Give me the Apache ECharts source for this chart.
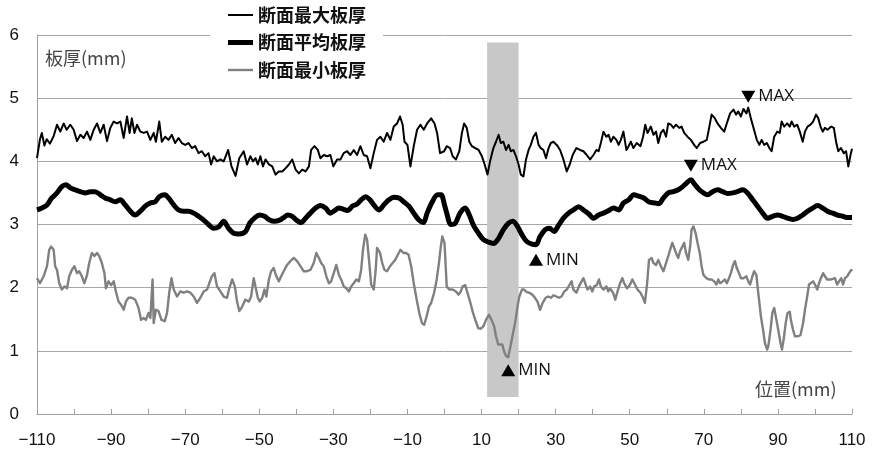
<!DOCTYPE html>
<html>
<head>
<meta charset="utf-8">
<script src="https://cdn.jsdelivr.net/npm/echarts@6/dist/echarts.min.js"></script>
<style>
  html, body { margin: 0; padding: 0; background: #fff; }
  #chart { width: 872px; height: 455px; }
</style>
</head>
<body>
<div id="chart"></div>
<script>
// Section thickness profiles along the width: [position (mm), thickness (mm)]
const seriesNames = ['断面最大板厚', '断面平均板厚', '断面最小板厚'];

const maxThickness = [
  [-110,4.05],[-109.2,4.35],[-108.7,4.45],[-108,4.25],[-107.4,4.35],[-106.5,4.28],[-105.5,4.4],[-104.6,4.58],[-103.7,4.47],[-102.8,4.6],
  [-102,4.5],[-101,4.58],[-100.1,4.5],[-99.2,4.32],[-98.3,4.42],[-97.4,4.37],[-96.5,4.47],[-95.6,4.34],[-94.7,4.5],[-93.8,4.6],
  [-92.9,4.45],[-92,4.58],[-91.1,4.32],[-90.2,4.53],[-89.3,4.63],[-88.4,4.6],[-87.5,4.63],[-86.6,4.37],[-85.7,4.71],[-85,4.45],
  [-84.4,4.68],[-83.7,4.45],[-83,4.58],[-82.1,4.47],[-81.2,4.45],[-80.3,4.47],[-79.4,4.34],[-78.5,4.45],[-77.9,4.31],[-77,4.63],
  [-76.3,4.31],[-75.4,4.39],[-74.5,4.34],[-73.6,4.42],[-72.7,4.29],[-71.8,4.37],[-70.9,4.29],[-70,4.26],[-69.1,4.29],[-68.2,4.21],
  [-67.3,4.24],[-66.4,4.13],[-65.5,4.16],[-64.6,4.08],[-63.7,4.13],[-63,3.95],[-62.3,4.08],[-61.4,4.0],[-60.5,4.03],[-59.6,4.0],
  [-58.4,4.18],[-57.5,3.92],[-56.4,3.77],[-55.4,4.05],[-54.2,4.16],[-53.3,3.95],[-52.4,4.08],[-51.7,4.0],[-51,4.05],[-50.4,3.95],
  [-49.7,4.08],[-49,3.92],[-48.3,4.03],[-47.4,3.95],[-46.5,3.92],[-45.6,3.79],[-44.7,3.84],[-43.8,3.84],[-42.9,3.89],[-42,3.95],
  [-41.1,4.03],[-40.2,3.87],[-39.3,3.81],[-38.4,3.87],[-37.5,3.84],[-36.6,3.92],[-36,4.18],[-35.1,4.24],[-34.2,4.18],[-33.5,4.05],
  [-32.6,4.1],[-31.7,4.08],[-30.8,4.1],[-30,3.92],[-29,4.03],[-28.1,4.03],[-27.2,4.13],[-26.3,4.16],[-25.4,4.1],[-24.5,4.18],
  [-23.6,4.1],[-22.7,4.24],[-21.8,4.1],[-20.9,4.08],[-20,3.89],[-19.1,4.13],[-18.2,4.34],[-17.3,4.39],[-16.4,4.31],[-15.5,4.45],
  [-14.6,4.34],[-13.7,4.55],[-12.8,4.6],[-12,4.71],[-11.3,4.58],[-10.8,4.31],[-10,4.26],[-9.2,3.92],[-8.3,4.24],[-7.4,4.5],
  [-6.5,4.58],[-5.6,4.5],[-4.7,4.6],[-3.6,4.68],[-2.7,4.6],[-2,4.45],[-1.2,4.13],[-0.1,4.16],[0.6,4.24],[1.5,4.21],
  [2.2,4.08],[3.1,4.03],[4,4.16],[4.7,4.45],[5.3,4.6],[6,4.53],[6.7,4.31],[7.4,4.24],[8.3,4.21],[9.2,4.18],
  [10.1,4.08],[11,3.92],[11.6,3.79],[12.3,4.0],[13.2,4.21],[13.9,4.31],[14.6,4.42],[15.2,4.29],[15.9,4.31],[16.6,4.18],
  [17.3,4.26],[17.9,4.16],[18.6,4.18],[19.3,4.08],[20,3.95],[20.6,3.79],[21.3,3.76],[22,4.03],[22.7,4.18],[23.3,4.26],
  [24,4.39],[24.7,4.45],[25.4,4.26],[26,4.21],[26.7,4.18],[27.4,4.05],[28.1,4.21],[28.7,4.29],[29.4,4.31],[30.3,4.26],
  [31.2,4.18],[32.1,4.03],[33,3.84],[33.8,3.95],[34.6,4.1],[35.6,4.21],[36.6,4.18],[37.5,4.16],[38.4,4.1],[39.3,4.03],
  [40.2,4.1],[41,4.18],[41.6,4.16],[42.2,4.29],[42.9,4.47],[43.7,4.39],[44.3,4.42],[44.9,4.31],[45.6,4.39],[46.4,4.34],
  [47,4.26],[47.6,4.34],[48.3,4.47],[49.1,4.18],[49.7,4.24],[50.3,4.31],[51,4.21],[51.9,4.29],[52.9,4.24],[53.6,4.39],
  [54.2,4.58],[54.8,4.45],[55.7,4.55],[56.4,4.42],[57.1,4.47],[57.7,4.29],[58.4,4.45],[59.1,4.5],[59.8,4.39],[60.4,4.6],
  [61.1,4.58],[61.8,4.53],[62.5,4.58],[63.4,4.53],[64,4.55],[64.7,4.45],[65.6,4.39],[66.5,4.34],[67.4,4.26],[68.1,4.21],
  [69,4.29],[69.9,4.31],[70.8,4.34],[71.5,4.55],[72.1,4.74],[73,4.68],[73.7,4.6],[74.6,4.53],[75.5,4.47],[76.2,4.6],
  [77.1,4.76],[78,4.82],[78.7,4.74],[79.3,4.79],[80,4.71],[80.7,4.83],[81.5,4.76],[82,4.85],[82.7,4.68],[83.4,4.53],
  [84.3,4.34],[85,4.26],[85.6,4.34],[86.3,4.26],[87,4.29],[87.7,4.21],[88.3,4.16],[89,4.39],[89.8,4.47],[90.5,4.45],
  [91,4.63],[91.7,4.55],[92.5,4.6],[93.2,4.55],[93.7,4.63],[94.4,4.55],[95.2,4.58],[95.9,4.47],[96.7,4.31],[97.3,4.47],
  [98,4.55],[98.8,4.58],[99.5,4.63],[100.3,4.74],[100.9,4.68],[101.5,4.55],[102.1,4.47],[102.7,4.53],[103.4,4.5],[104.4,4.55],
  [105.1,4.53],[105.7,4.31],[106.3,4.16],[107,4.21],[107.8,4.13],[108.4,4.16],[109,3.92],[109.6,4.1],[110,4.2]
];

const avgThickness = [
  [-110,3.23],[-108.7,3.26],[-107.3,3.31],[-106,3.42],[-104.6,3.5],[-103.3,3.6],[-102.2,3.63],[-101,3.58],[-99.7,3.55],[-98.3,3.52],
  [-97,3.5],[-95.6,3.52],[-94.3,3.52],[-92.9,3.47],[-91.6,3.42],[-90.2,3.39],[-88.9,3.36],[-87.5,3.39],[-86.2,3.31],[-84.8,3.21],
  [-83.5,3.15],[-82.1,3.21],[-80.8,3.29],[-79.4,3.34],[-78.1,3.36],[-77,3.44],[-75.5,3.47],[-74.5,3.42],[-73.1,3.31],[-71.8,3.23],
  [-70.4,3.21],[-69.1,3.21],[-67.7,3.18],[-66.4,3.13],[-65,3.07],[-63.7,3.0],[-62.3,2.94],[-61,2.96],[-59.6,3.05],[-58.3,2.94],
  [-56.9,2.86],[-55.5,2.85],[-53.7,2.89],[-52.6,3.02],[-51.3,3.1],[-49.9,3.15],[-48.6,3.13],[-47.2,3.07],[-45.9,3.05],[-44.5,3.07],
  [-43.4,3.11],[-42.3,3.15],[-41.1,3.13],[-40,3.07],[-38.7,3.03],[-37.5,3.1],[-36.2,3.18],[-34.8,3.26],[-33.5,3.3],[-32.1,3.26],
  [-30.8,3.18],[-29.7,3.22],[-28.5,3.26],[-27.2,3.24],[-26.1,3.22],[-24.9,3.29],[-23.7,3.32],[-22.5,3.39],[-21.3,3.44],[-20.1,3.39],
  [-19.1,3.31],[-17.7,3.23],[-16.4,3.31],[-15,3.39],[-13.7,3.43],[-12.3,3.42],[-11,3.36],[-9.6,3.29],[-8.3,3.18],[-6.9,3.07],
  [-5.7,3.03],[-4.7,3.18],[-3.3,3.36],[-1.9,3.47],[-0.9,3.47],[0,3.31],[0.6,3.18],[1.7,3.0],[2.9,3.02],[4.2,3.18],
  [5.6,3.26],[6.7,3.15],[7.8,2.99],[9.2,2.86],[10.5,2.76],[11.9,2.72],[13.2,2.7],[14.6,2.78],[15.9,2.92],[17.3,3.02],
  [18.4,3.05],[19.7,2.97],[20.9,2.84],[22.2,2.73],[23.6,2.69],[24.7,2.68],[25.8,2.81],[27.2,2.92],[28.3,2.94],[29.6,2.89],
  [30.8,2.99],[32.1,3.1],[33.5,3.18],[34.8,3.23],[36.2,3.28],[37.5,3.23],[38.9,3.17],[40.2,3.1],[41.6,3.15],[42.9,3.18],
  [44.3,3.22],[45.6,3.26],[47,3.23],[48.3,3.34],[49.7,3.39],[51.1,3.47],[52.4,3.45],[53.8,3.42],[55.1,3.36],[56.8,3.34],
  [57.9,3.33],[59.1,3.42],[60.4,3.5],[61.8,3.52],[63.1,3.55],[64.3,3.6],[65.4,3.66],[66.5,3.71],[67.6,3.63],[68.8,3.55],
  [69.9,3.5],[71,3.47],[72.4,3.52],[73.7,3.55],[75.1,3.52],[76.4,3.49],[77.8,3.5],[79.1,3.52],[80.5,3.55],[81.8,3.5],
  [83.2,3.39],[84.5,3.29],[85.9,3.18],[87.2,3.1],[88.6,3.13],[89.9,3.15],[91.3,3.13],[92.6,3.1],[94,3.08],[95.3,3.1],
  [96.7,3.15],[98,3.21],[99.4,3.26],[100.7,3.3],[102.1,3.26],[103.4,3.21],[104.8,3.18],[106.1,3.15],[107.5,3.13],[108.9,3.11],
  [110,3.11]
];

const minThickness = [
  [-110,2.15],[-109.2,2.07],[-108.2,2.18],[-107.3,2.34],[-106.7,2.6],[-106.2,2.65],[-105.5,2.6],[-105.1,2.34],[-104.6,2.28],[-104,2.07],
  [-103.3,1.97],[-102.6,2.02],[-101.9,1.99],[-101.3,2.18],[-100.6,2.28],[-99.9,2.34],[-99.2,2.23],[-98.6,2.26],[-97.9,2.18],[-97.2,2.07],
  [-96.5,2.2],[-95.9,2.39],[-95.2,2.55],[-94.5,2.5],[-93.8,2.55],[-93.2,2.5],[-92.5,2.39],[-91.8,2.23],[-91.4,1.99],[-90.7,2.1],
  [-90,2.04],[-89.3,2.1],[-88.7,1.94],[-88,1.78],[-87.3,1.73],[-86.6,1.65],[-86,1.78],[-85.3,1.84],[-84.4,1.84],[-83.5,1.81],
  [-82.6,1.68],[-81.9,1.49],[-81.2,1.52],[-80.6,1.49],[-79.9,1.6],[-79.4,1.52],[-78.8,2.13],[-78.5,1.44],[-77.9,1.65],[-77.2,1.63],
  [-76.4,1.49],[-75.5,1.47],[-74.9,1.6],[-74.3,1.92],[-73.7,2.15],[-73.1,1.97],[-72.2,1.86],[-71.3,1.94],[-70.4,1.92],[-69.5,1.94],
  [-68.6,1.92],[-67.7,1.86],[-66.8,1.76],[-65.9,1.84],[-65,1.94],[-64.1,1.97],[-63.5,2.07],[-62.8,2.18],[-62.1,2.23],[-61.4,2.02],
  [-60.5,1.94],[-59.6,1.86],[-58.7,1.84],[-58.1,1.99],[-57.3,2.13],[-56.6,2.02],[-56,1.78],[-55.4,1.63],[-54.6,1.7],[-53.8,1.81],
  [-52.8,1.78],[-52.2,1.86],[-51.5,2.15],[-51,2.13],[-50.4,1.84],[-49.9,1.78],[-49.2,1.84],[-48.6,1.97],[-48.1,1.86],[-47.4,2.13],
  [-46.8,2.26],[-46.1,2.31],[-45.4,2.18],[-44.7,2.1],[-44.1,2.18],[-43.4,2.26],[-42.5,2.36],[-41.6,2.42],[-40.7,2.47],[-39.8,2.42],
  [-38.9,2.34],[-38,2.26],[-37.1,2.26],[-36.2,2.28],[-35.3,2.39],[-34.6,2.55],[-33.9,2.47],[-33.3,2.39],[-32.6,2.34],[-31.9,2.18],
  [-31.2,2.07],[-30.6,2.1],[-29.9,2.23],[-29.2,2.36],[-28.5,2.2],[-27.9,2.13],[-27.2,2.02],[-26.5,1.99],[-25.8,1.94],[-25.2,2.02],
  [-24.5,2.07],[-23.8,2.13],[-23.1,2.1],[-22.5,2.28],[-22,2.6],[-21.4,2.84],[-20.9,2.76],[-20.3,2.39],[-19.8,2.05],[-19.1,1.97],
  [-18.6,2.26],[-18.2,2.63],[-17.4,2.55],[-16.8,2.39],[-16.2,2.28],[-15.5,2.26],[-14.7,2.34],[-14,2.39],[-13.3,2.44],[-12.6,2.52],
  [-11.9,2.6],[-11.1,2.55],[-10.4,2.55],[-9.7,2.52],[-9,2.34],[-8.3,2.07],[-7.5,1.81],[-6.8,1.6],[-6.1,1.44],[-5.5,1.41],
  [-4.8,1.55],[-4.2,1.7],[-3.6,1.76],[-2.8,1.92],[-2.1,2.13],[-1.5,2.39],[-1,2.65],[-0.6,2.81],[0,2.71],[0.6,2.02],
  [1.3,1.97],[2.2,1.97],[3.1,1.94],[3.8,1.89],[4.4,1.94],[4.9,2.02],[5.6,2.04],[6.2,1.92],[6.9,1.78],[7.6,1.62],
  [8.3,1.49],[9.1,1.36],[9.8,1.35],[10.5,1.39],[11.2,1.49],[12,1.57],[12.7,1.49],[13.4,1.39],[13.9,1.23],[14.5,1.1],
  [15,1.07],[15.6,1.1],[16.1,0.99],[16.6,0.92],[17.2,0.9],[17.7,1.04],[18.4,1.25],[19.2,1.49],[19.7,1.7],[20.2,1.86],
  [20.9,1.97],[21.5,1.97],[22.2,1.93],[22.9,1.92],[23.7,1.89],[24.4,1.84],[25.1,1.78],[25.8,1.65],[26.5,1.76],[27.3,1.84],
  [28,1.86],[28.7,1.84],[29.4,1.88],[30.2,1.86],[30.9,1.84],[31.6,1.86],[32.3,1.94],[33,1.97],[33.8,2.05],[34.3,2.1],
  [34.8,1.97],[35.6,1.92],[36.3,2.02],[37,2.1],[37.5,2.15],[38.1,2.05],[38.6,1.97],[39.3,2.02],[39.9,1.94],[40.4,2.02],
  [41.1,2.04],[41.7,2.13],[42.2,2.02],[42.9,1.97],[43.7,2.02],[44.2,1.94],[44.7,1.99],[45.5,1.92],[46.1,1.81],[46.7,1.94],
  [47.4,2.07],[48,2.15],[48.5,2.07],[49.3,1.99],[50,2.04],[50.7,2.13],[51.4,2.05],[52.1,1.97],[52.9,1.92],[53.6,1.84],
  [54.1,1.76],[54.7,2.07],[55.2,2.44],[55.9,2.47],[56.4,2.39],[57.1,2.36],[57.7,2.44],[58.4,2.34],[59.1,2.26],[59.8,2.39],
  [60.4,2.5],[60.9,2.6],[61.5,2.71],[62,2.63],[62.5,2.55],[63.1,2.47],[63.6,2.58],[64.2,2.65],[64.7,2.71],[65.2,2.55],
  [65.8,2.44],[66.3,2.65],[66.7,2.92],[67.2,2.97],[67.8,2.86],[68.3,2.71],[68.9,2.55],[69.4,2.34],[69.9,2.2],[70.7,2.15],
  [71.4,2.13],[72.1,2.13],[72.8,2.1],[73.4,2.05],[73.9,2.13],[74.4,2.07],[75.1,2.1],[75.7,2.13],[76.2,2.07],[76.8,2.15],
  [77.3,2.23],[77.9,2.36],[78.4,2.42],[78.9,2.31],[79.5,2.23],[80,2.15],[80.7,2.15],[81.5,2.18],[82,2.1],[82.5,2.05],
  [83.1,2.18],[83.6,2.26],[84.2,2.2],[84.5,2.02],[85,1.76],[85.4,1.55],[86,1.33],[86.5,1.12],[87.1,1.02],[87.4,1.07],
  [88,1.33],[88.5,1.6],[89,1.68],[89.6,1.49],[90.1,1.33],[90.7,1.12],[91.1,1.02],[91.6,1.2],[92.1,1.44],[92.6,1.6],
  [93.2,1.62],[93.5,1.49],[94.1,1.33],[94.6,1.23],[95.3,1.23],[96.1,1.25],[96.8,1.44],[97.3,1.65],[97.9,1.86],[98.4,2.05],
  [98.9,2.07],[99.5,2.1],[100,2.05],[100.6,1.97],[101.1,2.07],[101.6,2.15],[102.2,2.23],[102.7,2.18],[103.3,2.13],[103.8,2.1],
  [104.4,2.13],[104.9,2.1],[105.4,2.15],[106,2.05],[106.5,2.1],[107.1,2.15],[107.6,2.05],[108.1,2.15],[108.7,2.18],[109.2,2.23],
  [109.8,2.28],[110,2.26]
];

// Highlighted section (position range and thickness span of the shaded band)
const bandRange = [11.5, 20];
const bandSpan = [0.27, 5.88];

const xRange = [-110, 110];
const yRange = [0, 6];

const FONT_NUM = '"Liberation Sans", Arial, sans-serif';
const FONT_JP = '"Noto Sans CJK JP", sans-serif';

const chart = echarts.init(document.getElementById('chart'), null, { renderer: 'canvas' });

// Triangle markers: down-pointing above maxima, up-pointing below minima
const DOWN_TRI = 'path://M0 0L14 0L7 12Z';
const UP_TRI = 'path://M7 0L14 12L0 12Z';

// Legend swatches: plain strokes of the series' line weights
const legendIcons = [
  'path://M0 0H25V2H0Z',
  'path://M0 0H25V5H0Z',
  'path://M0 0H25V2.4H0Z'
];

const markLabel = {
  show: true,
  position: 'right',
  distance: 3,
  color: '#111',
  fontSize: 17,
  fontFamily: '"Open Sans", sans-serif'
};

function extremePoint(kind, offset) {
  const isMax = kind === 'max';
  return {
    type: kind,
    valueDim: 'y',
    symbol: isMax ? DOWN_TRI : UP_TRI,
    symbolSize: [14, 12],
    symbolOffset: [0, offset],
    label: Object.assign({}, markLabel, { formatter: isMax ? 'MAX' : 'MIN' })
  };
}

function markPoints(points) {
  return {
    silent: true,
    symbolKeepAspect: false,
    itemStyle: { color: '#000' },
    label: markLabel,
    data: points
  };
}

function axisValueLabel(v) {
  if ((v - xRange[0]) % 20 !== 0) return '';
  return v < 0 ? '\u2212' + Math.abs(v) : String(v);
}

const option = {
  animation: false,
  backgroundColor: '#fff',
  grid: { left: 37, right: 20, top: 35, bottom: 41, containLabel: false },
  legend: {
    data: seriesNames.map((name, i) => ({ name, icon: legendIcons[i] })),
    orient: 'vertical',
    left: 210,
    top: 1,
    padding: [4, 17, 4, 18],
    backgroundColor: '#fff',
    itemWidth: 25,
    itemHeight: 14,
    itemGap: 7.5,
    symbolKeepAspect: true,
    selectedMode: false,
    textStyle: {
      fontFamily: FONT_JP,
      fontSize: 18,
      fontWeight: 'bold',
      color: '#111',
      lineHeight: 20
    }
  },
  xAxis: {
    type: 'value',
    min: xRange[0],
    max: xRange[1],
    interval: 10,
    axisLine: { show: true, onZero: false, lineStyle: { color: '#a0a0a0', width: 1 } },
    axisTick: { show: true, inside: true, length: 5, lineStyle: { color: '#a0a0a0' } },
    splitLine: { show: false },
    axisLabel: {
      formatter: axisValueLabel,
      margin: 18,
      color: '#111',
      fontSize: 17,
      fontFamily: FONT_NUM,
      showMinLabel: true,
      showMaxLabel: true
    }
  },
  yAxis: {
    type: 'value',
    min: yRange[0],
    max: yRange[1],
    interval: 1,
    axisLine: { show: true, onZero: false, lineStyle: { color: '#a0a0a0', width: 1 } },
    axisTick: { show: false },
    splitLine: { show: true, lineStyle: { color: '#a6a6a6', width: 1 } },
    axisLabel: {
      margin: 18,
      color: '#111',
      fontSize: 17,
      fontFamily: FONT_NUM
    }
  },
  graphic: [
    {
      type: 'text', left: 45, top: 49, z: 10,
      style: { text: '板厚(mm)', fontFamily: FONT_JP, fontSize: 18, fill: '#444' }
    },
    {
      type: 'text', left: 755, top: 380, z: 10,
      style: { text: '位置(mm)', fontFamily: FONT_JP, fontSize: 18, fill: '#444' }
    }
  ],
  series: [
    {
      // shaded section band, drawn beneath the profiles
      name: 'band',
      type: 'line',
      data: [],
      z: 1,
      silent: true,
      markArea: {
        silent: true,
        itemStyle: { color: '#c8c8c8', opacity: 1 },
        data: [[
          { xAxis: bandRange[0], yAxis: bandSpan[0] },
          { xAxis: bandRange[1], yAxis: bandSpan[1] }
        ]]
      }
    },
    {
      name: seriesNames[0],
      type: 'line',
      data: maxThickness,
      z: 3,
      symbol: 'none',
      lineStyle: { color: '#000', width: 2, join: 'round' },
      itemStyle: { color: '#000' },
      markPoint: markPoints([extremePoint('max', -11)])
    },
    {
      name: seriesNames[1],
      type: 'line',
      data: avgThickness,
      z: 3,
      symbol: 'none',
      smooth: 0.3,
      lineStyle: { color: '#000', width: 5, join: 'round' },
      itemStyle: { color: '#000' },
      markPoint: markPoints([extremePoint('max', -14), extremePoint('min', 15)])
    },
    {
      name: seriesNames[2],
      type: 'line',
      data: minThickness,
      z: 3,
      symbol: 'none',
      lineStyle: { color: '#808080', width: 2.4, join: 'round' },
      itemStyle: { color: '#808080' },
      markPoint: markPoints([extremePoint('min', 13)])
    }
  ]
};

chart.setOption(option);
</script>
</body>
</html>
